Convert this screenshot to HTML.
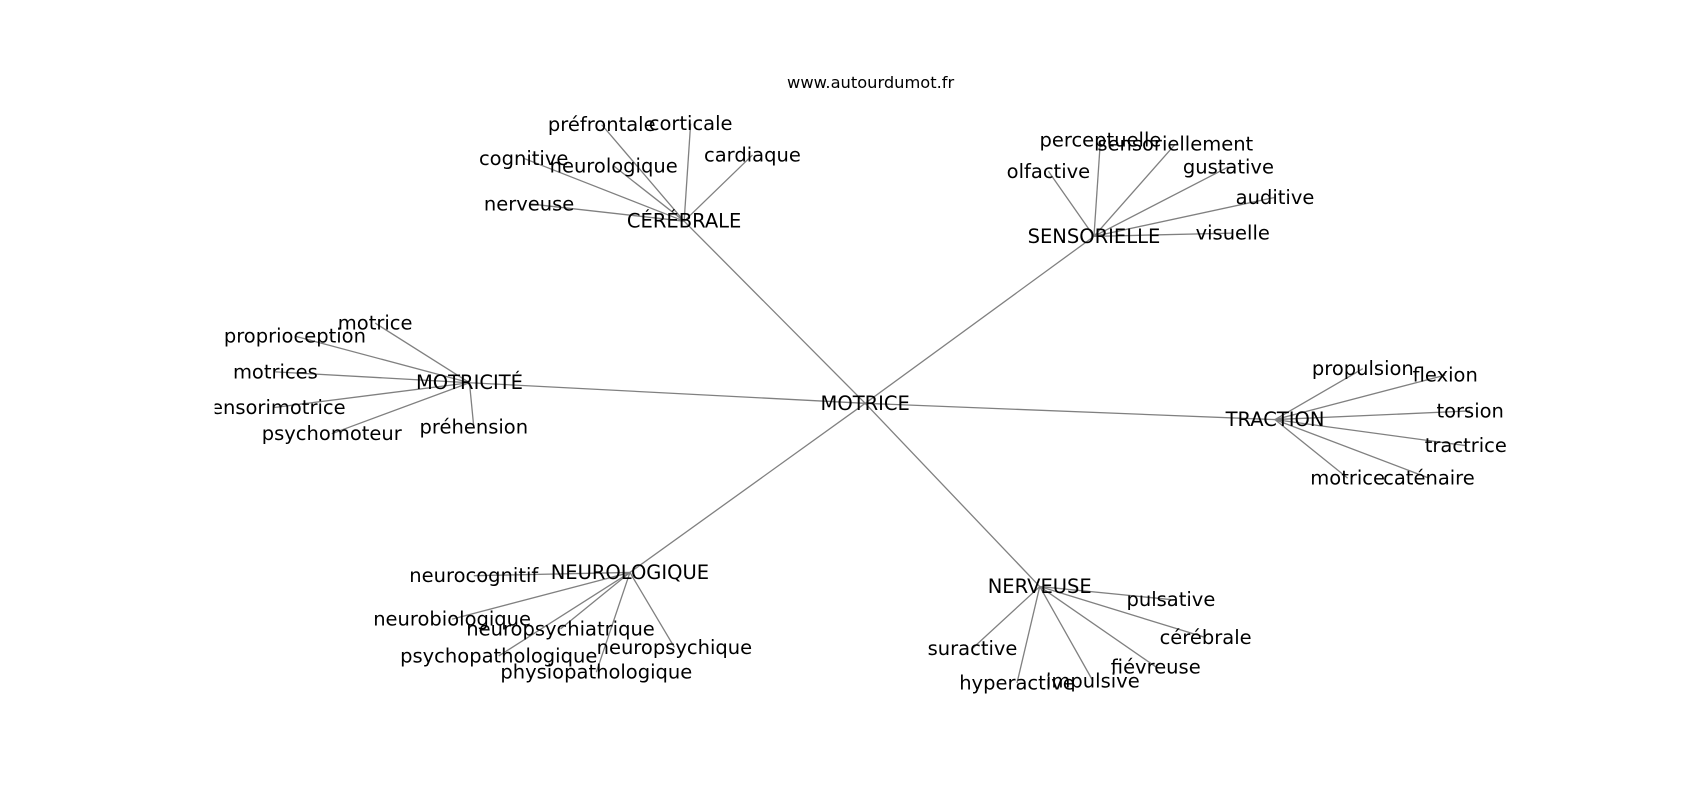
<!DOCTYPE html>
<html><head><meta charset="utf-8"><style>
html,body{margin:0;padding:0;background:#fff;}
svg{display:block;}
text{font-family:"DejaVu Sans","Liberation Sans",sans-serif;font-size:18px;fill:#000;text-anchor:middle;dominant-baseline:central;}
line{stroke:#808080;stroke-width:1.2;}
</style></head><body>
<svg width="1700" height="800" viewBox="0 0 1700 800">
<defs><clipPath id="c"><rect x="198" y="0" width="1500" height="800"/></clipPath></defs>
<g transform="scale(1.0842)">
<g clip-path="url(#c)">
<g>
<line x1="798" y1="372" x2="631" y2="204"/>
<line x1="798" y1="372" x2="1009" y2="218"/>
<line x1="798" y1="372" x2="433" y2="353"/>
<line x1="798" y1="372" x2="1176" y2="387"/>
<line x1="798" y1="372" x2="581" y2="528"/>
<line x1="798" y1="372" x2="959" y2="541"/>

<line x1="631" y1="204" x2="555" y2="115"/>
<line x1="631" y1="204" x2="637" y2="114"/>
<line x1="631" y1="204" x2="694" y2="143"/>
<line x1="631" y1="204" x2="483" y2="146"/>
<line x1="631" y1="204" x2="566" y2="153"/>
<line x1="631" y1="204" x2="488" y2="188"/>

<line x1="1009" y1="218" x2="1015" y2="129"/>
<line x1="1009" y1="218" x2="1084" y2="133"/>
<line x1="1009" y1="218" x2="967" y2="158"/>
<line x1="1009" y1="218" x2="1133" y2="154"/>
<line x1="1009" y1="218" x2="1176" y2="182"/>
<line x1="1009" y1="218" x2="1137" y2="215"/>

<line x1="433" y1="353" x2="346" y2="298"/>
<line x1="433" y1="353" x2="272" y2="310"/>
<line x1="433" y1="353" x2="254" y2="343"/>
<line x1="433" y1="353" x2="252" y2="376"/>
<line x1="433" y1="353" x2="306" y2="400"/>
<line x1="433" y1="353" x2="437" y2="394"/>

<line x1="1176" y1="387" x2="1257" y2="340"/>
<line x1="1176" y1="387" x2="1333" y2="346"/>
<line x1="1176" y1="387" x2="1356" y2="379"/>
<line x1="1176" y1="387" x2="1352" y2="411"/>
<line x1="1176" y1="387" x2="1243" y2="441"/>
<line x1="1176" y1="387" x2="1318" y2="441"/>

<line x1="581" y1="528" x2="437" y2="531"/>
<line x1="581" y1="528" x2="417" y2="571"/>
<line x1="581" y1="528" x2="517" y2="580"/>
<line x1="581" y1="528" x2="460" y2="605"/>
<line x1="581" y1="528" x2="622" y2="597"/>
<line x1="581" y1="528" x2="550" y2="620"/>

<line x1="959" y1="541" x2="1080" y2="553"/>
<line x1="959" y1="541" x2="1112" y2="588"/>
<line x1="959" y1="541" x2="1066" y2="615"/>
<line x1="959" y1="541" x2="1008" y2="628"/>
<line x1="959" y1="541" x2="938" y2="630"/>
<line x1="959" y1="541" x2="897" y2="598"/>
</g>
<g>
<text x="798" y="372">MOTRICE</text>
<text x="631" y="204">CÉRÉBRALE</text>
<text x="1009" y="218">SENSORIELLE</text>
<text x="433" y="353">MOTRICITÉ</text>
<text x="1176" y="387">TRACTION</text>
<text x="581" y="528">NEUROLOGIQUE</text>
<text x="959" y="541">NERVEUSE</text>

<text x="555" y="115">préfrontale</text>
<text x="637" y="114">corticale</text>
<text x="694" y="143">cardiaque</text>
<text x="483" y="146">cognitive</text>
<text x="566" y="153">neurologique</text>
<text x="488" y="188">nerveuse</text>

<text x="1015" y="129">perceptuelle</text>
<text x="1084" y="133">sensoriellement</text>
<text x="967" y="158">olfactive</text>
<text x="1133" y="154">gustative</text>
<text x="1176" y="182">auditive</text>
<text x="1137" y="215">visuelle</text>

<text x="346" y="298">motrice</text>
<text x="272" y="310">proprioception</text>
<text x="254" y="343">motrices</text>
<text x="252" y="376">sensorimotrice</text>
<text x="306" y="400">psychomoteur</text>
<text x="437" y="394">préhension</text>

<text x="1257" y="340">propulsion</text>
<text x="1333" y="346">flexion</text>
<text x="1356" y="379">torsion</text>
<text x="1352" y="411">tractrice</text>
<text x="1243" y="441">motrice</text>
<text x="1318" y="441">caténaire</text>

<text x="437" y="531">neurocognitif</text>
<text x="417" y="571">neurobiologique</text>
<text x="517" y="580">neuropsychiatrique</text>
<text x="460" y="605">psychopathologique</text>
<text x="622" y="597">neuropsychique</text>
<text x="550" y="620">physiopathologique</text>

<text x="1080" y="553">pulsative</text>
<text x="1112" y="588">cérébrale</text>
<text x="1066" y="615">fiévreuse</text>
<text x="1008" y="628">impulsive</text>
<text x="938" y="630">hyperactive</text>
<text x="897" y="598">suractive</text>
</g>
</g>
<text x="803" y="76" style="font-size:15px">www.autourdumot.fr</text>
</g>
</svg>
</body></html>
